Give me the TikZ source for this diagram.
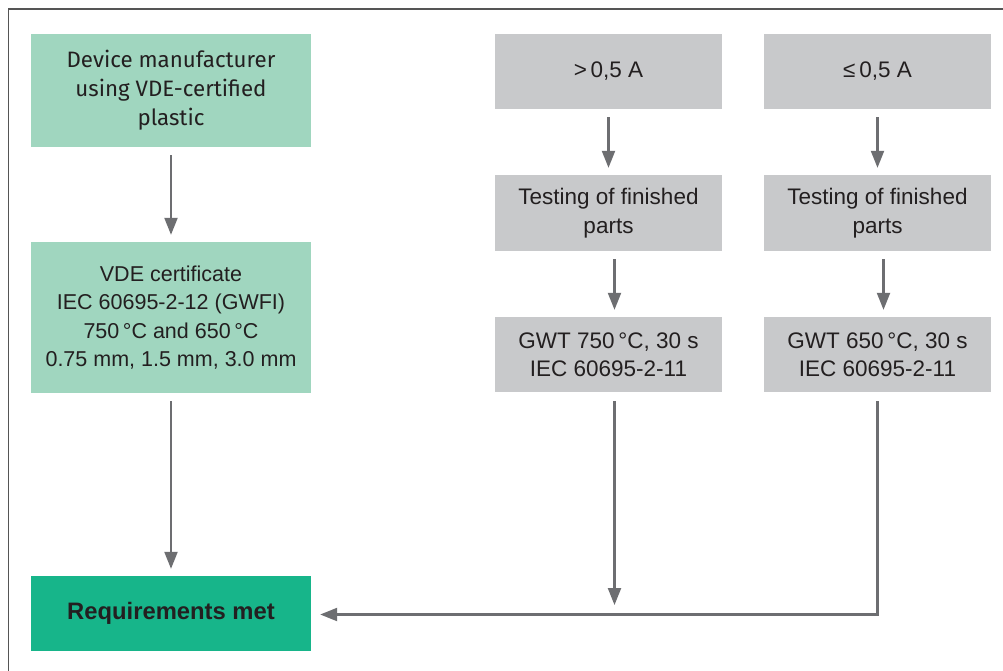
\documentclass[tikz,border=0pt]{standalone}
\usepackage{fontspec}
\setmainfont{Liberation Sans}
\newfontfamily\firafont{Fira Sans}
\usetikzlibrary{arrows.meta}
\definecolor{lightgreen}{HTML}{A0D6BF}
\definecolor{darkgreen}{HTML}{17B58A}
\definecolor{boxgray}{HTML}{C8C9CB}
\definecolor{arrowgray}{HTML}{6D6E71}
\definecolor{textdark}{HTML}{231F20}
\definecolor{framegray}{HTML}{555555}
\tikzset{
  box/.style={inner sep=0pt, align=center, text=textdark, font=\fontsize{22.5}{28.5}\selectfont},
  greenbox/.style={box, fill=lightgreen, minimum width=280pt},
  graybox/.style={box, fill=boxgray, minimum width=227pt, minimum height=75pt},
  arr/.style={draw=arrowgray, line width=2.2pt, -{Triangle[width=13pt,length=17pt]}, arrowgray},
  gapped/.style={shorten <=8pt, shorten >=7pt}
}
\begin{document}
\begin{tikzpicture}[x=1pt,y=-1pt]
\useasboundingbox (0,0) rectangle (1003,670);
\fill[white] (0,0) rectangle (1003,670);
\draw[framegray, line width=1.8pt] (8.5,675) -- (8.5,9.3) -- (1010,9.3);

\node[greenbox, minimum height=113pt, font=\firafont\fontsize{22.3}{29}\selectfont] (b1) at (171,90.5) {Device manufacturer\\using VDE-certified\\plastic};
\node[greenbox, minimum height=151pt, font=\fontsize{21.5}{28.5}\selectfont] (b2) at (171,317.5) {VDE certificate\\IEC 60695-2-12 (GWFI)\\750\,°C and 650\,°C\\0.75 mm, 1.5 mm, 3.0 mm};
\node[greenbox, fill=darkgreen, minimum height=75pt, font=\bfseries\fontsize{23.8}{28}\selectfont] (b3) at (171,613.5) {Requirements met};

\node[graybox] (a1) at (608.5,71.5) {>\,0,5 A};
\node[graybox] (a2) at (877.5,71.5) {≤\,0,5 A};
\node[graybox, minimum height=76pt] (t1) at (608.5,213) {Testing of finished\\parts};
\node[graybox, minimum height=76pt] (t2) at (877.5,213) {Testing of finished\\parts};
\node[graybox] (g1) at (608.5,354.5) {GWT 750\,°C, 30 s\\IEC 60695-2-11};
\node[graybox] (g2) at (877.5,354.5) {GWT 650\,°C, 30 s\\IEC 60695-2-11};

\coordinate (j1) at (614.5,605);
\coordinate (c2) at (877.5,614.5);

\draw[arr, gapped] (b1.south) -- (b2.north);
\draw[arr, gapped] (b2.south) -- (b3.north);
\draw[arr, gapped] (a1.south) -- (t1.north);
\draw[arr, gapped] (a2.south) -- (t2.north);
\draw[arr, gapped] ([xshift=6pt]t1.south) -- ([xshift=6pt]g1.north);
\draw[arr, gapped] ([xshift=6pt]t2.south) -- ([xshift=6pt]g2.north);
\draw[arr, shorten <=9pt] ([xshift=6pt]g1.south) -- (j1);
\draw[arr, shorten <=9pt, shorten >=9pt] (g2.south) -- (c2) -- (b3.east |- c2);
\end{tikzpicture}
\end{document}
